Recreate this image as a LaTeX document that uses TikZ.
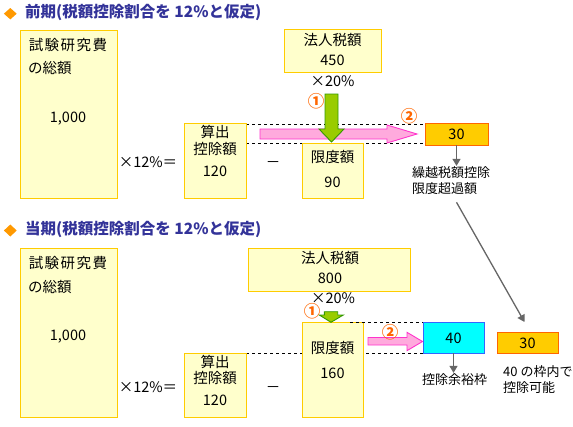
\documentclass[tikz,border=0pt]{standalone}
\usepackage{fontspec}
\setmainfont{Noto Sans CJK JP}
\usetikzlibrary{arrows.meta,calc}
\definecolor{boxfill}{RGB}{255,255,204}
\definecolor{boxline}{RGB}{255,204,0}
\definecolor{goldfill}{RGB}{255,204,0}
\definecolor{goldline}{RGB}{255,102,0}
\definecolor{cyanfill}{RGB}{0,255,255}
\definecolor{cyanline}{RGB}{51,102,255}
\definecolor{greenfill}{RGB}{153,204,0}
\definecolor{greenline}{RGB}{51,153,0}
\definecolor{pinkfill}{RGB}{255,170,221}
\definecolor{pinkline}{RGB}{255,51,204}
\definecolor{titleblue}{RGB}{51,51,153}
\definecolor{diamondorange}{RGB}{255,153,0}
\definecolor{numorange}{RGB}{255,102,0}
\definecolor{arrowgray}{RGB}{102,102,102}
\newcommand\wsp{\kern1.5pt}
\begin{document}
\begin{tikzpicture}[x=1pt,y=-1pt,
  boxbase/.style={inner sep=0pt, outer sep=0pt, anchor=north west, line width=1pt},
  ybox/.style={boxbase, draw=boxline, fill=boxfill},
  gbox/.style={boxbase, draw=goldline, fill=goldfill},
  cbox/.style={boxbase, draw=cyanline, fill=cyanfill},
  lab/.style={inner sep=0pt, anchor=base, font=\fontsize{14.5}{17}\selectfont},
  labw/.style={lab, anchor=base west},
  note/.style={inner sep=0pt, anchor=base west, font=\fontsize{13}{15}\selectfont},
  circnum/.style={inner sep=0pt, anchor=base, text=numorange, font=\fontsize{16.5}{16.5}\selectfont\bfseries},
  ttl/.style={inner sep=0pt, anchor=base west, text=titleblue, font=\fontsize{15.5}{18}\selectfont\bfseries},
  dashln/.style={draw=black, line width=0.8pt, dash pattern=on 3pt off 3pt},
  gar/.style={draw=arrowgray, line width=1.3pt, -{Triangle[length=7pt,width=8pt]}},
  garrow/.style={fill=greenfill, draw=greenline, line width=0.9pt, line join=miter},
  parrow/.style={fill=pinkfill, draw=pinkline, line width=0.9pt, line join=miter},
  marker/.style={fill=diamondorange}
]
\useasboundingbox (0,0) rectangle (573,426);

% ---------------- upper part ----------------
\fill[marker] (10.3,8) -- (16.7,13.7) -- (10.3,19.4) -- (3.9,13.7) -- cycle;
\node[ttl] (titleA) at (25,17.8) {前期(税額控除割合を 12\%と仮定)};

\draw[dashln] (246,124) -- (425,124);
\draw[dashln] (246,143) -- (425,143);

\node[ybox, minimum width=97pt, minimum height=168pt] (rdA) at (20,30) {};
\node[ybox, minimum width=62pt, minimum height=75pt] (calcA) at (184,123) {};
\node[ybox, minimum width=61pt, minimum height=55pt] (limA) at (302,143) {};
\node[ybox, minimum width=97pt, minimum height=43pt] (taxA) at (284,29) {};
\node[gbox, minimum width=63pt, minimum height=22pt] (a30) at (425,123) {};

\filldraw[parrow] (260,129) -- (387,129) -- (387,125) -- (417,134) -- (387,143) -- (387,139) -- (260,139) -- cycle;
\filldraw[garrow] (325,94) -- (338,94) -- (338,129) -- (344,129) -- (331.5,142) -- (319,129) -- (325,129) -- cycle;

\node[lab] (rdA1) at (68,50.5) {試\wsp 験\wsp 研\wsp 究\wsp 費};
\node[labw] (rdA2) at (28,73.5) {の総額};
\node[lab] (rdA3) at (68,122.5) {1,000};
\node[lab] (mulA) at (148,167.5) {×12\%＝};
\node[lab] (calcA1) at (215,137.5) {算出};
\node[lab] (calcA2) at (215,154.5) {控除額};
\node[lab] (calcA3) at (215,176.5) {120};
\node[lab] (minusA) at (273,167.5) {－};
\node[lab] (limA1) at (332.5,162.5) {限度額};
\node[lab] (limA2) at (332.5,187.5) {90};
\node[lab] (taxA1) at (332.5,45.5) {法人税額};
\node[lab] (taxA2) at (332.5,65.5) {450};
\node[lab] (pctA) at (332.5,86.5) {×20\%};
\node[lab] (a30t) at (456.5,139.5) {30};
\node[circnum] (oneA) at (316,107) {①};
\node[circnum] (twoA) at (409,122) {②};
\node[note] (exc1) at (412,177) {繰越税額控除};
\node[note] (exc2) at (412,193) {限度超過額};

\draw[gar] (a30.south) -- (a30.south |- exc1.north);

% ---------------- lower part ----------------
\fill[marker] (10.3,224.5) -- (16.7,230.5) -- (10.3,236.5) -- (3.9,230.5) -- cycle;
\node[ttl] (titleB) at (25,234.8) {当期(税額控除割合を 12\%と仮定)};

\draw[dashln] (246,353) -- (423,353);

\node[ybox, minimum width=97pt, minimum height=169pt] (rdB) at (20,248) {};
\node[ybox, minimum width=62pt, minimum height=64pt] (calcB) at (184,353) {};
\node[ybox, minimum width=61pt, minimum height=95pt] (limB) at (302,322) {};
\node[ybox, minimum width=162pt, minimum height=43pt] (taxB) at (248,248) {};
\node[cbox, minimum width=61pt, minimum height=31pt] (c40) at (423,322) {};
\node[gbox, minimum width=61pt, minimum height=21pt] (b30) at (497,332) {};

\draw[dashln] (350,322) -- (c40.north west);

\filldraw[parrow] (368,337.5) -- (407,337.5) -- (407,332.3) -- (422.5,341.5) -- (407,350.7) -- (407,345) -- (368,345) -- cycle;
\filldraw[garrow] (324.3,311.7) -- (337.7,311.7) -- (337.7,315) -- (343.3,315) -- (331,322.3) -- (319.3,315) -- (324.3,315) -- cycle;

\node[lab] (rdB1) at (68,268.5) {試\wsp 験\wsp 研\wsp 究\wsp 費};
\node[labw] (rdB2) at (28,292.5) {の総額};
\node[lab] (rdB3) at (68,340.5) {1,000};
\node[lab] (mulB) at (148,392.5) {×12\%＝};
\node[lab] (calcB1) at (215,367.5) {算出};
\node[lab] (calcB2) at (215,383.5) {控除額};
\node[lab] (calcB3) at (215,405.5) {120};
\node[lab] (minusB) at (273,392.5) {－};
\node[lab] (limB1) at (332.5,353.5) {限度額};
\node[lab] (limB2) at (332.5,378.5) {160};
\node[lab] (taxB1) at (330,263.5) {法人税額};
\node[lab] (taxB2) at (330,283.5) {800};
\node[lab] (pctB) at (333,303.5) {×20\%};
\node[lab] (c40t) at (453.5,343) {40};
\node[lab] (b30t) at (527.5,348) {30};
\node[circnum] (oneB) at (312,317) {①};
\node[circnum] (twoB) at (390,338) {②};
\node[note] (room) at (422,384) {控除余裕枠};
\node[note] (ok1) at (503,376) {40 の枠内で};
\node[note] (ok2) at (503,392) {控除可能};

\draw[gar] (c40.south) -- (c40.south |- room.north);
\draw[gar] ($(a30.south |- exc2.south)+(0,8)$) -- ($(b30.north)+(-3,-10)$);
\end{tikzpicture}
\end{document}
